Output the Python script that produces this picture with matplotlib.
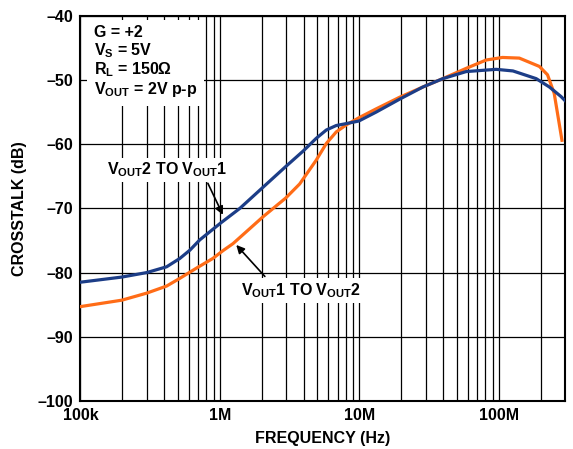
import matplotlib.pyplot as plt
from matplotlib.ticker import FixedLocator, NullFormatter

plt.rcParams['font.family'] = ['Liberation Sans', 'DejaVu Sans']
plt.rcParams['font.weight'] = 'bold'
plt.rcParams['axes.labelweight'] = 'bold'
plt.rcParams['mathtext.fontset'] = 'custom'
plt.rcParams['mathtext.rm'] = 'Liberation Sans:bold'
plt.rcParams['mathtext.bf'] = 'Liberation Sans:bold'
plt.rcParams['mathtext.it'] = 'Liberation Sans:bold'

# VOUT2 TO VOUT1 (blue)
blue_f = [1.0e5, 1.98e5, 2.99e5, 4.15e5, 5.16e5, 6.1e5, 7.18e5, 1.01e6, 1.39e6,
          2.04e6, 2.96e6, 3.94e6, 4.9e6, 5.79e6, 6.82e6, 8.05e6, 9.9e6, 1.32e7,
          1.94e7, 2.85e7, 3.96e7, 5.82e7, 9.55e7, 1.26e8, 1.85e8, 2.3e8, 2.79e8,
          2.97e8]
blue_db = [-81.5, -80.7, -80.0, -79.1, -77.8, -76.5, -74.9, -72.3, -70.0,
           -66.7, -63.5, -61.1, -59.1, -57.8, -57.1, -56.8, -56.4, -55.0,
           -53.0, -51.1, -49.8, -48.7, -48.35, -48.6, -49.8, -51.1, -52.6,
           -53.2]

# VOUT1 TO VOUT2 (orange)
orange_f = [1.0e5, 1.98e5, 2.99e5, 4.15e5, 5.16e5, 6.8e5, 8.9e5, 1.05e6, 1.24e6,
            2.04e6, 2.96e6, 3.73e6, 4.9e6, 5.79e6, 6.82e6, 8.05e6, 9.9e6, 1.32e7,
            1.94e7, 2.85e7, 3.96e7, 5.82e7, 8.1e7, 1.06e8, 1.4e8, 1.95e8, 2.23e8,
            2.49e8, 2.83e8]
orange_db = [-85.3, -84.3, -83.2, -82.1, -80.9, -79.3, -77.8, -76.6, -75.5,
             -71.3, -68.4, -66.2, -62.5, -59.9, -58.1, -57.0, -55.9, -54.5,
             -52.7, -51.1, -49.8, -48.2, -46.9, -46.5, -46.6, -47.9, -49.2,
             -52.1, -59.4]

x_ticks = [1e5, 1e6, 1e7, 1e8]
x_tick_labels = ['100k', '1M', '10M', '100M']
y_ticks = [-100, -90, -80, -70, -60, -50, -40]

fig = plt.figure(figsize=(5.73, 4.49), dpi=100)
ax = fig.add_axes([0.1403, 0.1069, 0.8466, 0.8581])

ax.set_xscale('log')
ax.set_xlim(1e5, 3e8)
ax.set_ylim(-100, -40)

minor = [m * 10 ** e for e in range(5, 9) for m in range(2, 10) if m * 10 ** e < 3e8]
ax.xaxis.set_major_locator(FixedLocator(x_ticks))
ax.xaxis.set_minor_locator(FixedLocator(minor))
ax.xaxis.set_minor_formatter(NullFormatter())
ax.set_xticks(x_ticks, x_tick_labels)
ax.set_yticks(y_ticks, ['\u2013' + str(-v) for v in y_ticks])

ax.grid(True, which='both', axis='x', color='black', lw=0.9)
ax.grid(True, which='major', axis='y', color='black', lw=0.9)
ax.tick_params(which='both', length=0, labelsize=11.5, pad=5)
for s in ax.spines.values():
    s.set_linewidth(1.5)

ax.plot(blue_f, blue_db, color='#1c3d87', lw=2.3, zorder=4)
ax.plot(orange_f, orange_db, color='#ff6c17', lw=2.3, zorder=3)

box = dict(facecolor='white', edgecolor='none', pad=2)
ax.text(1.25e5, -41.4,
        'G = +2\nV$_{S}$ = 5V\nR$_{L}$ = 150\u03a9\nV$_{OUT}$ = 2V p-p',
        fontsize=11.5, va='top', ha='left', linespacing=1.08,
        bbox=dict(facecolor='white', edgecolor='none', pad=5), zorder=2.5)

# curve labels and their arrows
arrow = dict(arrowstyle='-|>', color='black', lw=1.2, mutation_scale=12,
             shrinkA=0, shrinkB=0)
ax.text(4.2e5, -64.0, 'V$_{OUT}$2 TO V$_{OUT}$1', fontsize=11.5,
        ha='center', va='center', bbox=box, zorder=5)
ax.annotate('', xy=(1.05e6, -71.0), xytext=(8.2e5, -66.1),
            arrowprops=arrow, zorder=5)
ax.text(3.8e6, -82.8, 'V$_{OUT}$1 TO V$_{OUT}$2', fontsize=11.5,
        ha='center', va='center', bbox=box, zorder=5)
ax.annotate('', xy=(1.31e6, -75.7), xytext=(2.1e6, -80.6),
            arrowprops=arrow, zorder=5)

ax.set_ylabel('CROSSTALK (dB)', fontsize=11.5, labelpad=8)
ax.set_xlabel('FREQUENCY (Hz)', fontsize=11.5, labelpad=6)

fig.savefig('out.png', dpi=100)
